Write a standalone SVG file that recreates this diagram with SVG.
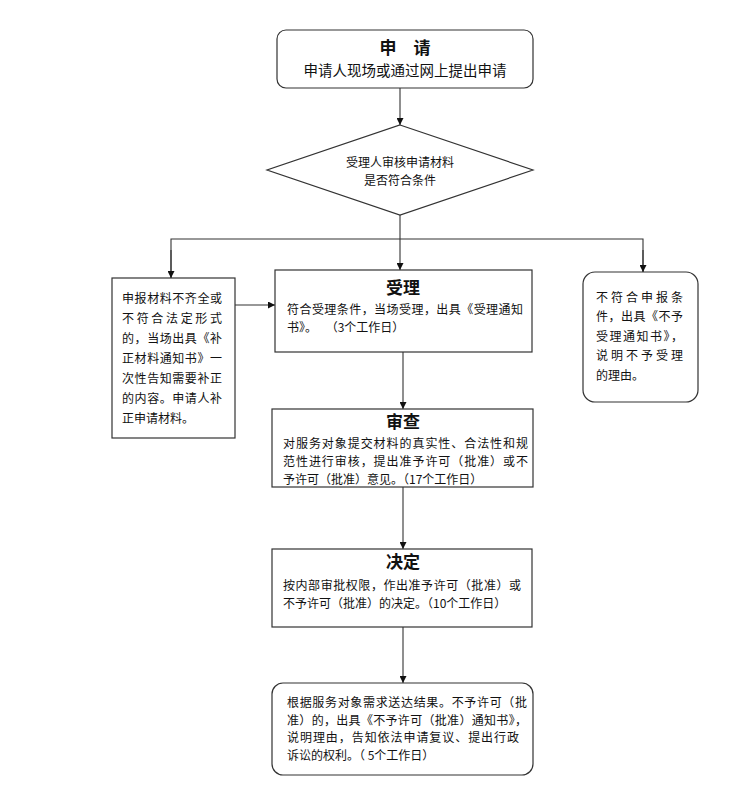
<svg xmlns="http://www.w3.org/2000/svg" width="755" height="807" viewBox="0 0 755 807">
<style>
.box{fill:#fff;stroke:#333;stroke-width:1.2}
.ln{fill:none;stroke:#333;stroke-width:1.1}
text{font-family:"Noto Sans CJK SC","Noto Sans",sans-serif;fill:#111}
.t{font-size:17px;font-weight:bold}
.b{font-size:12px}
.m{font-size:14.5px}
</style>
<defs>
<marker id="ar" viewBox="0 0 10 10" refX="10" refY="5" markerWidth="7" markerHeight="7" orient="auto" markerUnits="userSpaceOnUse">
<path d="M0,0 L10,5 L0,10 z" fill="#111"/>
</marker>
</defs>
<rect width="755" height="807" fill="#fff"/>
<g id="connectors">
<line class="ln" x1="400" y1="88" x2="400" y2="125" marker-end="url(#ar)"/>
<line class="ln" x1="400" y1="215" x2="400" y2="270" marker-end="url(#ar)"/>
<polyline class="ln" points="171,278 171,239 643,239 643,272"/>
<line class="ln" x1="171" y1="250" x2="171" y2="278" marker-end="url(#ar)"/>
<line class="ln" x1="643" y1="250" x2="643" y2="272" marker-end="url(#ar)"/>
<line class="ln" x1="235" y1="305" x2="275" y2="305" marker-end="url(#ar)"/>
<line class="ln" x1="403" y1="352" x2="403" y2="409" marker-end="url(#ar)"/>
<line class="ln" x1="403" y1="487" x2="403" y2="549" marker-end="url(#ar)"/>
<line class="ln" x1="403" y1="627" x2="403" y2="683" marker-end="url(#ar)"/>
</g>
<g id="apply">
<rect class="box" x="277" y="30" width="256" height="58" rx="9"/>
<text class="t" x="405" y="54" text-anchor="middle">申　请</text>
<text class="m" x="405" y="76" text-anchor="middle">申请人现场或通过网上提出申请</text>
</g>
<g id="check">
<polygon class="box" points="400,125 533,170 400,215 267,170"/>
<text class="b" x="400" y="167" text-anchor="middle">受理人审核申请材料</text>
<text class="b" x="400" y="185" text-anchor="middle">是否符合条件</text>
</g>
<g id="incomplete">
<rect class="box" x="112" y="278" width="123" height="160"/>
<text class="b" x="122" y="303" textLength="100" lengthAdjust="spacing">申报材料不齐全或</text>
<text class="b" x="122" y="323" textLength="100" lengthAdjust="spacing">不符合法定形式</text>
<text class="b" x="122" y="343" textLength="100" lengthAdjust="spacing">的，当场出具《补</text>
<text class="b" x="122" y="363" textLength="100" lengthAdjust="spacing">正材料通知书》一</text>
<text class="b" x="122" y="383" textLength="100" lengthAdjust="spacing">次性告知需要补正</text>
<text class="b" x="122" y="403" textLength="100" lengthAdjust="spacing">的内容。申请人补</text>
<text class="b" x="122" y="423">正申请材料。</text>
</g>
<g id="accept">
<rect class="box" x="275" y="270" width="257" height="82"/>
<text class="t" x="403" y="294" text-anchor="middle">受理</text>
<text class="b" x="287" y="314" textLength="236" lengthAdjust="spacing">符合受理条件，当场受理，出具《受理通知</text>
<text class="b" x="287" y="332">书》。　 （3个工作日）</text>
</g>
<g id="reject">
<rect class="box" x="583" y="272" width="115" height="130" rx="12"/>
<text class="b" x="596" y="302" textLength="87" lengthAdjust="spacing">不符合申报条</text>
<text class="b" x="596" y="321" textLength="87" lengthAdjust="spacing">件，出具《不予</text>
<text class="b" x="596" y="341" textLength="87" lengthAdjust="spacing">受理通知书》，</text>
<text class="b" x="596" y="360" textLength="87" lengthAdjust="spacing">说明不予受理</text>
<text class="b" x="596" y="380">的理由。</text>
</g>
<g id="review">
<rect class="box" x="272" y="409" width="261" height="78"/>
<text class="t" x="403" y="428" text-anchor="middle">审查</text>
<text class="b" x="283" y="448" textLength="245" lengthAdjust="spacing">对服务对象提交材料的真实性、合法性和规</text>
<text class="b" x="283" y="466" textLength="245" lengthAdjust="spacing">范性进行审核，提出准予许可（批准）或不</text>
<text class="b" x="283" y="484">予许可（批准）意见。（17个工作日）</text>
</g>
<g id="decide">
<rect class="box" x="272" y="549" width="260" height="78"/>
<text class="t" x="403" y="568" text-anchor="middle">决定</text>
<text class="b" x="283" y="590" textLength="238" lengthAdjust="spacing">按内部审批权限，作出准予许可（批准）或</text>
<text class="b" x="283" y="608">不予许可（批准）的决定。（10个工作日）</text>
</g>
<g id="deliver">
<rect class="box" x="272" y="683" width="261" height="92" rx="11"/>
<text class="b" x="287" y="707" textLength="240" lengthAdjust="spacing">根据服务对象需求送达结果。不予许可（批</text>
<text class="b" x="287" y="724.5" textLength="240" lengthAdjust="spacing">准）的，出具《不予许可（批准）通知书》，</text>
<text class="b" x="287" y="742" textLength="232" lengthAdjust="spacing">说明理由，告知依法申请复议、提出行政</text>
<text class="b" x="287" y="759.5">诉讼的权利。（ 5个工作日）</text>
</g>
</svg>
